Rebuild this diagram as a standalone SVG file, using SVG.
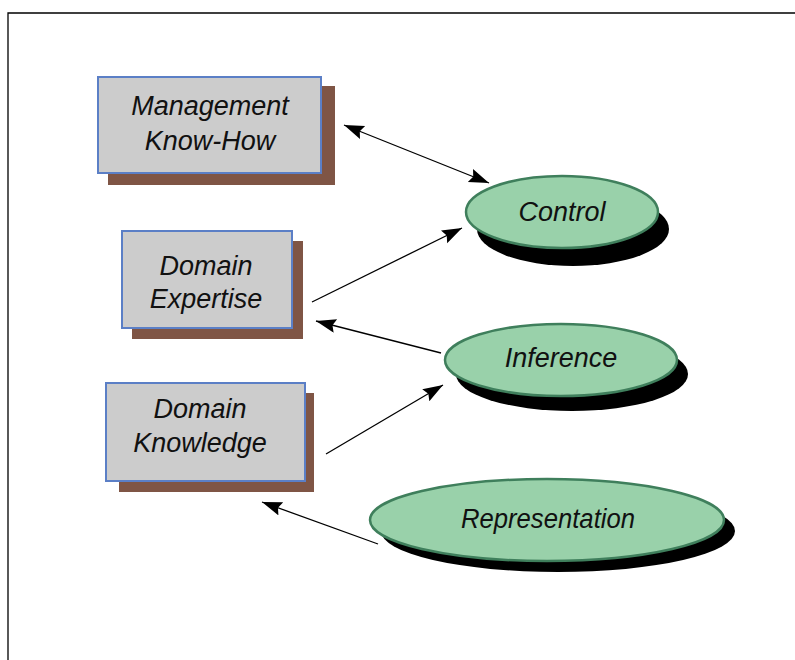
<svg xmlns="http://www.w3.org/2000/svg" width="795" height="660" viewBox="0 0 795 660">
<style>
.shadow{fill:#7f5545;}
.box{fill:#cccccc;stroke:#5b7fc6;stroke-width:2;}
.eshadow{fill:#000000;}
.ell{fill:#99d1aa;stroke:#3f7f5c;stroke-width:2.5;}
.lbl{font-family:"Liberation Sans","DejaVu Sans",sans-serif;font-style:italic;font-size:27px;fill:#111111;text-anchor:middle;}
.conn{stroke:#000000;stroke-width:1.3;fill:none;}
</style>
<defs>
<marker id="ah" markerUnits="userSpaceOnUse" markerWidth="22" markerHeight="16" refX="20" refY="7" orient="auto-start-reverse">
<path d="M0,0 L20,7 L0,14 L3,7 z" fill="#000000"/>
</marker>
</defs>
<path d="M8,660 L8,13 L795,13" fill="none" stroke="#000000" stroke-width="1.3"/>
<g id="management">
<rect class="shadow" x="108" y="86" width="227" height="99"/>
<rect class="box" x="98" y="77" width="223" height="96"/>
<text class="lbl" x="210" y="115">Management</text>
<text class="lbl" x="210" y="150">Know-How</text>
</g>
<g id="expertise">
<rect class="shadow" x="132" y="241" width="171" height="98"/>
<rect class="box" x="122" y="231" width="170" height="97"/>
<text class="lbl" x="206" y="275">Domain</text>
<text class="lbl" x="206" y="308">Expertise</text>
</g>
<g id="knowledge">
<rect class="shadow" x="119" y="393" width="195" height="99"/>
<rect class="box" x="106" y="383" width="199" height="98"/>
<text class="lbl" x="200" y="418">Domain</text>
<text class="lbl" x="200" y="452">Knowledge</text>
</g>
<g id="control">
<ellipse class="eshadow" cx="573" cy="229" rx="96" ry="37"/>
<ellipse class="ell" cx="562" cy="212" rx="96" ry="36"/>
<text class="lbl" x="562" y="221">Control</text>
</g>
<g id="inference">
<ellipse class="eshadow" cx="572" cy="374" rx="116" ry="37"/>
<ellipse class="ell" cx="561" cy="360" rx="116" ry="36"/>
<text class="lbl" x="561" y="367">Inference</text>
</g>
<g id="representation">
<ellipse class="eshadow" cx="558" cy="531" rx="177" ry="41"/>
<ellipse class="ell" cx="547" cy="520" rx="177" ry="41"/>
<text class="lbl" x="548" y="528" textLength="174" lengthAdjust="spacingAndGlyphs">Representation</text>
</g>
<g id="connectors">
<line class="conn" x1="344" y1="125" x2="489" y2="183" marker-start="url(#ah)" marker-end="url(#ah)"/>
<line class="conn" x1="312" y1="302" x2="462" y2="228" marker-end="url(#ah)"/>
<line class="conn" x1="441" y1="353" x2="316" y2="321" marker-end="url(#ah)"/>
<line class="conn" x1="326" y1="454" x2="443" y2="385" marker-end="url(#ah)"/>
<line class="conn" x1="378" y1="544" x2="262" y2="502" marker-end="url(#ah)"/>
</g>
</svg>
